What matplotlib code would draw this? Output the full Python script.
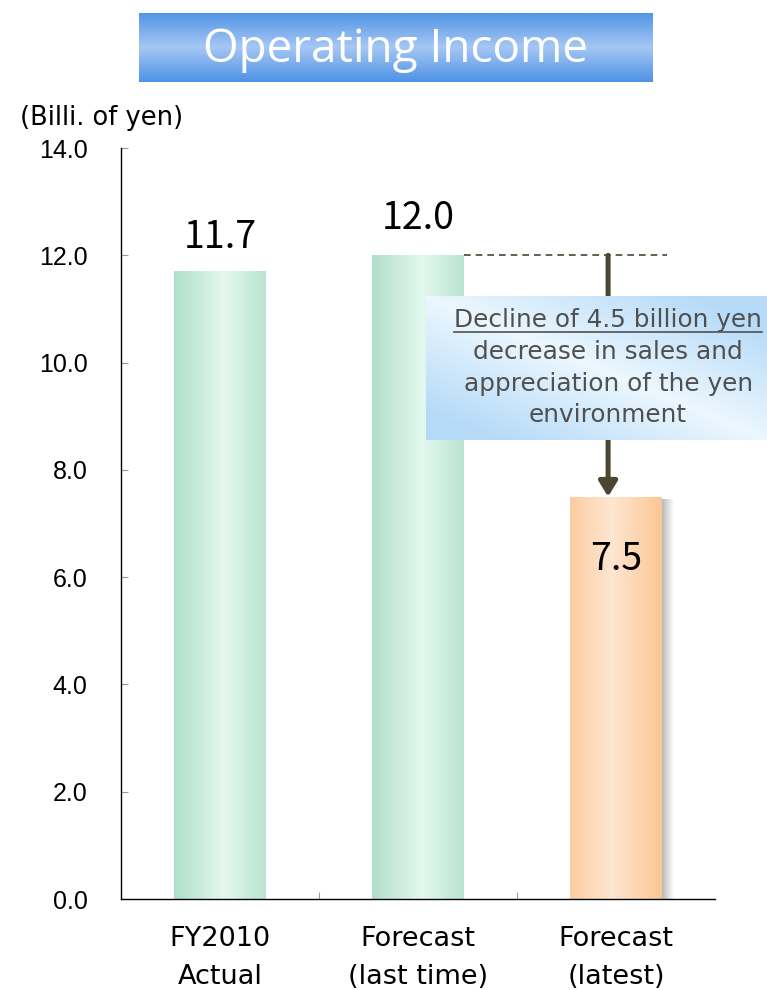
import numpy as np
import matplotlib
matplotlib.use("Agg")
import matplotlib.pyplot as plt
from matplotlib.colors import LinearSegmentedColormap
from matplotlib.lines import Line2D

categories = ["FY2010\nActual", "Forecast\n(last time)", "Forecast\n(latest)"]
values = [11.7, 12.0, 7.5]
value_labels = ["11.7", "12.0", "7.5"]
yticks = [0.0, 2.0, 4.0, 6.0, 8.0, 10.0, 12.0, 14.0]
note_lines = ["Decline of 4.5 billion yen", "decrease in sales and",
              "appreciation of the yen", "environment"]

JP = ["Noto Sans CJK JP", "DejaVu Sans"]
WIDE = ["DejaVu Sans"]

fig = plt.figure(figsize=(7.67, 9.9), dpi=100)
ax = fig.add_axes([0.1578, 0.0919, 0.7744, 0.7586])


def fill_gradient(ax, patch, edge, mid, peak=0.55, z=2):
    x, y = patch.get_x(), patch.get_y()
    w, h = patch.get_width(), patch.get_height()
    t = np.linspace(0, 1, 256)
    shape = np.clip(1 - np.abs(t - peak) / max(peak, 1 - peak), 0, 1)
    cmap = LinearSegmentedColormap.from_list("g", [edge, mid])
    img = ax.imshow(shape[None, :], cmap=cmap, vmin=0, vmax=1, aspect="auto",
                    extent=[x, x + w, y, y + h], zorder=z, interpolation="bilinear")
    img.set_clip_path(patch)


x = np.arange(len(categories))
bars = ax.bar(x, values, width=0.46, color="none", edgecolor="none", zorder=2)

# soft shadow on the right of the latest forecast
b = bars[2]
sh = np.linspace(0.6, 0, 64)
shadow_cmap = LinearSegmentedColormap.from_list("s", ["#ffffff", "#8a8a8a"])
ax.imshow(sh[None, :], cmap=shadow_cmap, vmin=0, vmax=1, aspect="auto",
          extent=[b.get_x() + b.get_width(), b.get_x() + b.get_width() + 0.06, 0, values[2] - 0.05],
          zorder=1, interpolation="bilinear")

fill_gradient(ax, bars[0], "#b0dfc9", "#e3f8ef")
fill_gradient(ax, bars[1], "#b0dfc9", "#e3f8ef")
fill_gradient(ax, bars[2], "#fcc795", "#fee6d1", peak=0.45)

ax.text(0, values[0] + 0.63, value_labels[0], ha="center", va="center", fontsize=27, family=JP)
ax.text(1, values[1] + 0.69, value_labels[1], ha="center", va="center", fontsize=27, family=JP)
ax.text(2, values[2] - 1.17, value_labels[2], ha="center", va="center", fontsize=27, family=JP)

# change from last forecast to latest
ax.plot([1.23, 2.26], [values[1], values[1]], ls=(0, (4, 3)), color="#4b4630", lw=1.2, zorder=3)
ax.annotate("", xy=(1.96, values[2]), xytext=(1.96, values[1]),
            arrowprops=dict(arrowstyle="-|>,head_width=0.55,head_length=0.9",
                            color="#4b4630", lw=3.6, shrinkA=0, shrinkB=0), zorder=3)

ax.set_xlim(-0.5, 2.5)
ax.set_ylim(0, 14)
ax.set_yticks(yticks)
ax.set_yticklabels([f"{v:.1f}" for v in yticks], family=["Liberation Sans"], fontsize=18)
ax.tick_params(axis="y", direction="in", length=5, color="#999999", pad=24)
ax.set_xticks([0.5, 1.5])
ax.set_xticklabels([])
ax.tick_params(axis="x", direction="in", length=5, color="#999999")
for i, c in enumerate(categories):
    ax.text(i, -0.5, c, ha="center", va="top", fontsize=19.5, family=WIDE, linespacing=1.62)
for s in ["top", "right"]:
    ax.spines[s].set_visible(False)
for s in ["left", "bottom"]:
    ax.spines[s].set_linewidth(1.0)

fig.text(0.026, 0.881, "(Billi. of yen)", fontsize=18.5, family=WIDE, va="center")

# title banner
tax = fig.add_axes([0.1812, 0.9172, 0.670, 0.0697])
tv = np.linspace(0, 1, 128)
tshape = 1 - np.abs(tv - 0.5) * 2
tax.imshow(tshape[:, None], cmap=LinearSegmentedColormap.from_list("t", ["#4f93e6", "#a6c7f4"]),
           aspect="auto", extent=[0, 1, 0, 1], vmin=0, vmax=1, interpolation="bilinear")
tax.set_axis_off()
tax.text(0.5, 0.47, "Operating Income", ha="center", va="center", color="white",
         fontsize=33, family=["Open Sans"])

# note box
nax = fig.add_axes([0.5554, 0.5556, 0.4446, 0.1454], zorder=5)
gx, gy = np.meshgrid(np.linspace(0, 1, 200), np.linspace(0, 1, 100))
band = np.clip(1 - np.abs(gx - gy) * 1.25, 0, 1)
nax.imshow(band, cmap=LinearSegmentedColormap.from_list("n", ["#b5daf8", "#ecf7fe"]),
           aspect="auto", extent=[0, 1, 0, 1], vmin=0, vmax=1, interpolation="bilinear", origin="upper")
nax.set_xlim(0, 1)
nax.set_ylim(0, 1)
nax.set_axis_off()
ys = [0.83, 0.61, 0.39, 0.17]
txts = []
for line, yy in zip(note_lines, ys):
    txts.append(nax.text(0.534, yy, line, ha="center", va="center", fontsize=17.8,
                         color="#505050", family=WIDE))

fig.canvas.draw()
bb = txts[0].get_window_extent().transformed(nax.transAxes.inverted())
nax.add_line(Line2D([bb.x0, bb.x1], [bb.y0 + 0.005, bb.y0 + 0.005], color="#505050", lw=1.2))

fig.savefig("out.png", dpi=100)
